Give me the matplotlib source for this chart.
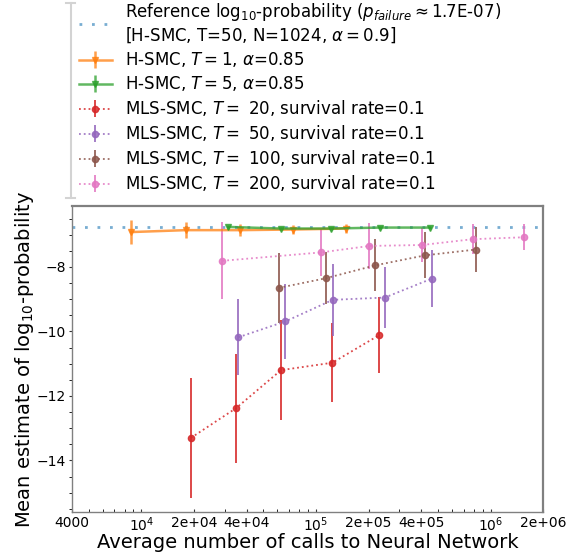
import numpy as np
import matplotlib
matplotlib.use('Agg')
import matplotlib.pyplot as plt
from matplotlib.ticker import AutoMinorLocator, NullFormatter
from matplotlib.lines import Line2D

# reference value
p_ref = 1.7e-07

# H-SMC runs
hsmc1_x = [8700, 17900, 36600, 74200, 148700]
hsmc1_y = [-6.92, -6.86, -6.86, -6.84, -6.81]
hsmc1_err = [0.37, 0.25, 0.18, 0.15, 0.13]

hsmc5_x = [31500, 62800, 122000, 233000, 450600]
hsmc5_y = [-6.76, -6.81, -6.81, -6.78, -6.78]
hsmc5_err = [0.05, 0.04, 0.04, 0.04, 0.04]

# MLS-SMC runs
mls20_x = [19200, 34800, 63000, 124000, 230700]
mls20_y = [-13.30, -12.38, -11.20, -10.97, -10.11]
mls20_err = [1.86, 1.69, 1.54, 1.22, 1.17]

mls50_x = [35900, 66700, 124700, 247700, 462000]
mls50_y = [-10.18, -9.69, -9.02, -8.95, -8.36]
mls50_err = [1.17, 1.16, 1.11, 0.94, 0.88]

mls100_x = [61200, 114000, 218800, 423000, 826000]
mls100_y = [-8.65, -8.35, -7.95, -7.64, -7.46]
mls100_err = [1.09, 0.80, 0.81, 0.71, 0.71]

mls200_x = [29100, 107000, 202000, 405000, 791000, 1563000]
mls200_y = [-7.81, -7.55, -7.35, -7.32, -7.14, -7.08]
mls200_err = [1.19, 0.74, 0.70, 0.53, 0.47, 0.40]

xticks = [4000, 1e4, 2e4, 4e4, 1e5, 2e5, 4e5, 1e6, 2e6]
xticklabels = ['4000', '$10^4$', '2e+04', '4e+04', '$10^5$', '2e+05', '4e+05', '$10^6$', '2e+06']

fig = plt.figure(figsize=(5.76, 5.56), dpi=100)
ax = fig.add_axes([0.125, 0.079, 0.818, 0.55])

ax.axhline(np.log10(p_ref), color='tab:blue', ls=(0, (1, 3.5)), lw=2, alpha=0.6,
           label='Reference log$_{10}$-probability ($p_{failure} \\approx$1.7E-07)\n[H-SMC, T=50, N=1024, $\\alpha=0.9$]')

ax.errorbar(hsmc1_x, hsmc1_y, yerr=hsmc1_err, color='tab:orange', marker='v', ms=5,
            lw=1.8, alpha=0.75, label='H-SMC, $T=1$, $\\alpha$=0.85')
ax.errorbar(hsmc5_x, hsmc5_y, yerr=hsmc5_err, color='tab:green', marker='v', ms=5,
            lw=1.8, alpha=0.75, label='H-SMC, $T=5$, $\\alpha$=0.85')

mls = [(mls20_x, mls20_y, mls20_err, 'tab:red', 20),
       (mls50_x, mls50_y, mls50_err, 'tab:purple', 50),
       (mls100_x, mls100_y, mls100_err, 'tab:brown', 100),
       (mls200_x, mls200_y, mls200_err, 'tab:pink', 200)]
for x, y, e, c, T in mls:
    ax.errorbar(x, y, yerr=e, color=c, marker='o', ms=4.5, ls=':', lw=1.3,
                elinewidth=1.4, alpha=0.85,
                label=f'MLS-SMC, $T=$ {T}, survival rate=0.1')

ax.set_xscale('log')
ax.set_xlim(4000, 2e6)
ax.set_ylim(-15.6, -6.12)
ax.set_xticks(xticks)
ax.set_xticklabels(xticklabels)
ax.xaxis.set_minor_formatter(NullFormatter())
ax.yaxis.set_minor_locator(AutoMinorLocator(4))
ax.tick_params(labelsize=10, colors='#333333', labelcolor='black')
ax.tick_params(axis='x', which='both', direction='in', length=2.5, pad=2.5)
ax.tick_params(axis='y', which='both', direction='out', length=2, pad=2.5)
for side, s in ax.spines.items():
    s.set_color('gray')
    s.set_linewidth(1.0 if side in ('left', 'bottom') else 1.6)

ax.set_xlabel('Average number of calls to Neural Network', fontsize=14, labelpad=-1)
ax.set_ylabel('Mean estimate of log$_{10}$-probability', fontsize=14, labelpad=0)

ax.legend(loc='lower left', bbox_to_anchor=(0.0, 1.02), frameon=False,
          borderaxespad=0, fontsize=12, handlelength=2.0, labelspacing=0.3)

# stray light-gray bar at the legend's left
fig.add_artist(Line2D([0.123, 0.123], [0.644, 0.995], color='lightgray', lw=1.5,
                      transform=fig.transFigure))
fig.add_artist(Line2D([0.115, 0.131], [0.995, 0.995], color='lightgray', lw=1.5,
                      transform=fig.transFigure))
fig.add_artist(Line2D([0.115, 0.131], [0.644, 0.644], color='lightgray', lw=1.5,
                      transform=fig.transFigure))

fig.savefig('out.png', dpi=100)
